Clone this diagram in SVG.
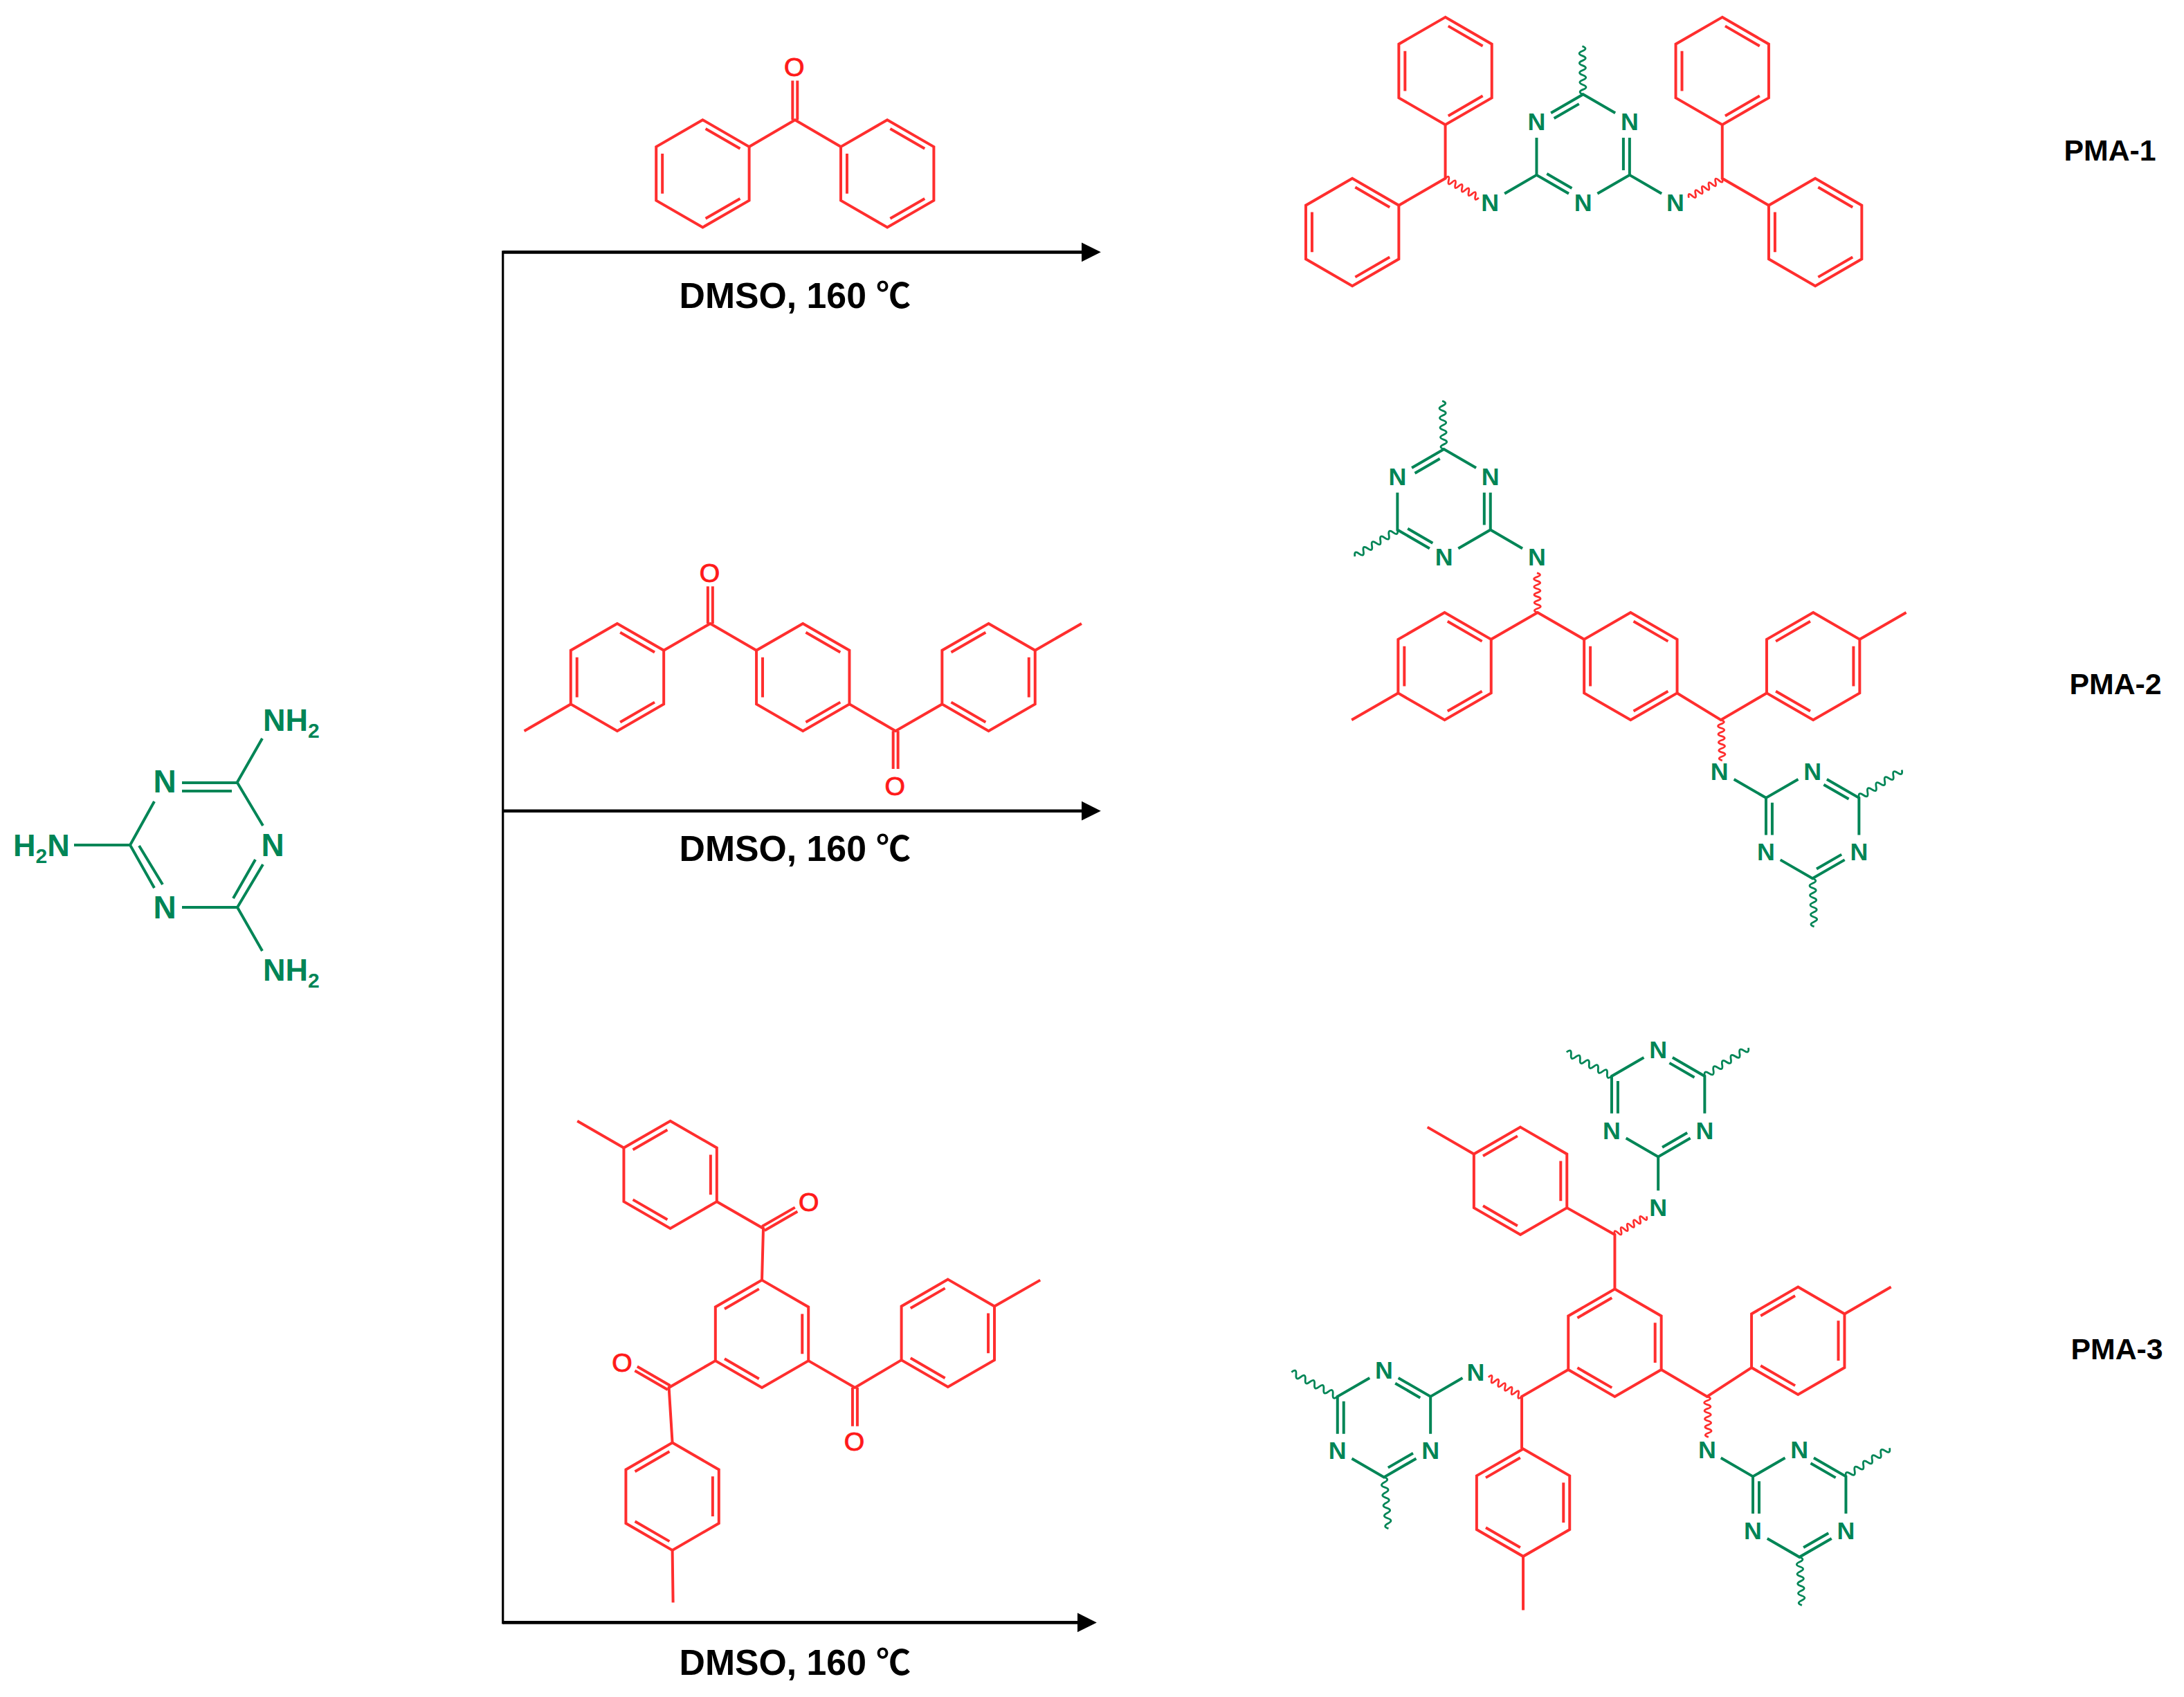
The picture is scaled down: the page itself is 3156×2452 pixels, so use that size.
<svg xmlns="http://www.w3.org/2000/svg" width="3156" height="2452" viewBox="0 0 3156 2452">
<style>
text{font-family:"Liberation Sans",Arial,sans-serif;font-weight:700}
.r,.g,.k{fill:none;stroke-width:4;stroke-linejoin:miter}
.r{stroke:#ff2e2e}
.g{stroke:#008556}
.k{stroke:#000;stroke-width:4.6}
.wv{stroke-width:2.8}
.n{fill:#008556;stroke:none;font-size:36px;text-anchor:middle}
.m{font-size:46px}
.h{fill:#008556;font-size:45px}
.s{font-size:30px}
.o{fill:#ff1a1a;stroke:#ff1a1a;stroke-width:1;font-size:38px;font-weight:400;text-anchor:middle}
.c{fill:#000;font-size:52px}
.u{font-family:"Noto Sans CJK SC",sans-serif;font-weight:700;font-size:50px}
.l{fill:#000;font-size:43px}
</style>
<defs>
<marker id="ah" markerUnits="userSpaceOnUse" markerWidth="30" markerHeight="30" refX="5" refY="15" orient="auto"><path d="M0 1L28 15L0 29Z" fill="#000"/></marker>
<g id="b"><path d="M0-78L67.5-39V39L0 78L-67.5 39V-39Z"/><path d="M-4.2-65.2L-54.3-36.2M58.5-29V29M-4.2 65.2L-54.3 36.2"/></g>
<g id="t"><path d="M-46.7-51L0-78L46.7-51M67.5-15V39L20.8 66M-20.8 66L-67.5 39V-15"/><path d="M-5.9-64.2L-42.2-43.2M58.5-15V32M-52.6 37.2L-16.3 58.2"/></g>
<path id="w" vector-effect="non-scaling-stroke" d="M0 0q3.5-9 7 0t7 0t7 0t7 0t7 0t7 0t7 0t7 0t7 0t7 0"/>
</defs>
<rect width="3156" height="2452" fill="#fff"/>

<g id="melamine">
<path class="g" d="M263 1131H343L380 1193M380 1249L343 1311H263M223 1158L188 1221L223 1283M263 1143H335M369 1242L337 1298M201 1222L235 1278M343 1130L379 1067M107 1221H188M343 1311L379 1374"/>
<text class="n m" x="238" y="1145">N</text>
<text class="n m" x="394" y="1237">N</text>
<text class="n m" x="238" y="1327">N</text>
<text class="h" x="380" y="1056">NH<tspan class="s" dy="10">2</tspan></text>
<text class="h" x="380" y="1417">NH<tspan class="s" dy="10">2</tspan></text>
<text class="h" x="19" y="1237">H<tspan class="s" dy="10">2</tspan><tspan dy="-10">N</tspan></text>
</g>

<g transform="scale(.9955)">
<g id="connectors">
<path class="k" style="stroke-width:3.2" d="M730 364V2357"/>
<path class="k" d="M730 366H1575" marker-end="url(#ah)"/>
<path class="k" d="M730 1177H1575" marker-end="url(#ah)"/>
<path class="k" d="M730 2355H1569" marker-end="url(#ah)"/>
</g>

<g id="reagent-1" class="r">
<use href="#b" transform="translate(1020 252) scale(-1 1)"/>
<use href="#b" transform="translate(1288 252) scale(-1 1)"/>
<path d="M1087.5 213L1154 174L1220.5 213M1150.5 174V117M1157.5 174V117"/>
<text class="o" x="1153" y="110">O</text>
</g>
<g id="cond-1"><text class="c" x="986" y="447">DMSO, 160 <tspan class="u">℃</tspan></text></g>

<g id="reagent-2" class="r">
<use href="#b" transform="translate(896 983) scale(-1 1)"/>
<use href="#b" transform="translate(1165.5 983) scale(-1 1)"/>
<use href="#b" transform="translate(1435 983)"/>
<path d="M828.5 1022L761 1061M963.5 944L1031 905L1098 944M1233 1022L1300 1061L1367.5 1022M1502.5 944L1570 905M1027.5 905V851M1034.5 905V851M1296.5 1061V1116M1303.5 1061V1116"/>
<text class="o" x="1030" y="845">O</text>
<text class="o" x="1299" y="1154">O</text>
</g>
<g id="cond-2"><text class="c" x="986" y="1250">DMSO, 160 <tspan class="u">℃</tspan></text></g>

<g id="reagent-3" class="r">
<use href="#b" transform="translate(1106 1936)"/>
<use href="#b" transform="translate(973 1705)"/>
<use href="#b" transform="translate(1376 1935)"/>
<use href="#b" transform="translate(976 2172)"/>
<path d="M905.5 1666L838 1627M1040.5 1744L1108 1783L1106 1858M1173.5 1975L1241 2014L1308.5 1974M1443.5 1896L1510 1858M1038.5 1975L971 2014L976 2094M976 2250L977 2326"/>
<path d="M1106.2 1780L1154 1752.5M1109.8 1786L1157.6 1758.5M1237.5 2014V2070M1244.5 2014V2070M972.75 2011L925 1983.5M969.25 2017L921.5 1989.5"/>
<text class="o" x="1174" y="1758">O</text>
<text class="o" x="1240" y="2105">O</text>
<text class="o" x="903" y="1991">O</text>
</g>
<g id="cond-3"><text class="c" x="986" y="2431">DMSO, 160 <tspan class="u">℃</tspan></text></g>

<g id="pma-1">
<g class="r">
<use href="#b" transform="translate(2098 103) scale(-1 1)"/>
<use href="#b" transform="translate(2500 103) scale(-1 1)"/>
<use href="#b" transform="translate(1963 337) scale(-1 1)"/>
<use href="#b" transform="translate(2635 337) scale(-1 1)"/>
<path d="M2098 181V259L2030.5 298M2500 181V259L2567.5 298"/>
<use class="wv" href="#w" transform="translate(2098 259) rotate(30) scale(.8 1)"/>
<use class="wv" href="#w" transform="translate(2500 259) rotate(150) scale(.8 1)"/>
</g>
<g class="g">
<use href="#t" transform="translate(2298 215)"/>
<path d="M2230.5 254L2184 281M2365.5 254L2412 281"/>
<use class="wv" href="#w" transform="translate(2298 137) rotate(-91)"/>
</g>
<text class="n" x="2230.5" y="189">N</text>
<text class="n" x="2365.5" y="189">N</text>
<text class="n" x="2298" y="306">N</text>
<text class="n" x="2163" y="306">N</text>
<text class="n" x="2432" y="306">N</text>
</g>
<g id="label-1"><text class="l" x="2996" y="233">PMA-1</text></g>

<g id="pma-2">
<g class="r">
<use href="#b" transform="translate(2097 967) scale(-1 1)"/>
<use href="#b" transform="translate(2367 967) scale(-1 1)"/>
<use href="#b" transform="translate(2632 967)"/>
<path d="M2029.5 1006L1962 1045M2164.5 928L2232 889L2299.5 928M2434.5 1006L2498 1045L2564.5 1006M2699.5 928L2767 889"/>
<use class="wv" href="#w" transform="translate(2232 889) rotate(-91) scale(.82 1)"/>
<use class="wv" href="#w" transform="translate(2498 1045) rotate(88) scale(.84 1)"/>
</g>
<g class="g">
<use href="#t" transform="translate(2096 730)"/>
<use href="#t" transform="translate(2631 1197) rotate(180)"/>
<path d="M2163.5 769L2210 796M2563.5 1158L2517 1131"/>
<use class="wv" href="#w" transform="translate(2096 652) rotate(-92)"/>
<use class="wv" href="#w" transform="translate(2028.5 769) rotate(148) scale(1.04 1)"/>
<use class="wv" href="#w" transform="translate(2698.5 1158) rotate(-33) scale(1.06 1)"/>
<use class="wv" href="#w" transform="translate(2631 1275) rotate(88)"/>
</g>
<text class="n" x="2028.5" y="704">N</text>
<text class="n" x="2163.5" y="704">N</text>
<text class="n" x="2096" y="821">N</text>
<text class="n" x="2231" y="821">N</text>
<text class="n" x="2496" y="1132">N</text>
<text class="n" x="2631" y="1132">N</text>
<text class="n" x="2563.5" y="1249">N</text>
<text class="n" x="2698.5" y="1249">N</text>
</g>
<g id="label-2"><text class="l" x="3004" y="1008">PMA-2</text></g>

<g id="pma-3">
<g class="r">
<use href="#b" transform="translate(2344 1949)"/>
<use href="#b" transform="translate(2207 1714)"/>
<use href="#b" transform="translate(2610 1946)"/>
<use href="#b" transform="translate(2211 2181)"/>
<path d="M2139.5 1675L2072 1636M2274.5 1753L2344 1792V1871M2411.5 1988L2478 2027L2542.5 1985M2677.5 1907L2745 1868M2276.5 1988L2209 2027V2103M2211 2259V2337"/>
<use class="wv" href="#w" transform="translate(2344 1792) rotate(-30) scale(.76 1)"/>
<use class="wv" href="#w" transform="translate(2209 2027) rotate(210) scale(.8 1)"/>
<use class="wv" href="#w" transform="translate(2478 2027) rotate(88) scale(.84 1)"/>
</g>
<g class="g">
<use href="#t" transform="translate(2407 1601) rotate(180)"/>
<use href="#t" transform="translate(2009 2066) rotate(180)"/>
<use href="#t" transform="translate(2612 2182) rotate(180)"/>
<path d="M2407 1679V1728M2076.5 2027L2123 2000M2544.5 2143L2498 2116"/>
<use class="wv" href="#w" transform="translate(2339.5 1562) rotate(208) scale(1.06 1)"/>
<use class="wv" href="#w" transform="translate(2474.5 1562) rotate(-33) scale(1.08 1)"/>
<use class="wv" href="#w" transform="translate(1941.5 2027) rotate(208) scale(1.08 1)"/>
<use class="wv" href="#w" transform="translate(2009 2144) rotate(85) scale(1.07 1)"/>
<use class="wv" href="#w" transform="translate(2679.5 2143) rotate(-33) scale(1.08 1)"/>
<use class="wv" href="#w" transform="translate(2612 2260) rotate(87)"/>
</g>
<text class="n" x="2407" y="1536">N</text>
<text class="n" x="2339.5" y="1653">N</text>
<text class="n" x="2474.5" y="1653">N</text>
<text class="n" x="2407" y="1765">N</text>
<text class="n" x="2142" y="2004">N</text>
<text class="n" x="2009" y="2001">N</text>
<text class="n" x="1941.5" y="2118">N</text>
<text class="n" x="2076.5" y="2118">N</text>
<text class="n" x="2478" y="2117">N</text>
<text class="n" x="2612" y="2117">N</text>
<text class="n" x="2544.5" y="2234">N</text>
<text class="n" x="2679.5" y="2234">N</text>
</g>
<g id="label-3"><text class="l" x="3006" y="1973">PMA-3</text></g>
</g>
</svg>
